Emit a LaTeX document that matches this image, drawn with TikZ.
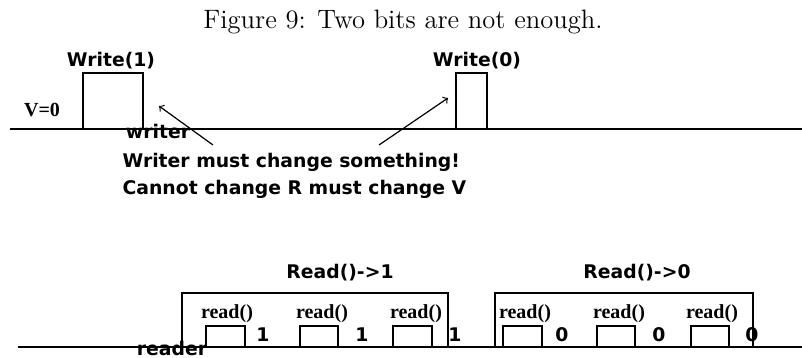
\documentclass[tikz,border=0pt]{standalone}
\usepackage{fontspec}
\newfontfamily\labelsans{DejaVu Sans}
\newfontfamily\labelserif{Liberation Serif}
\begin{document}
\begin{tikzpicture}[x=0.5pt,y=-0.5pt,line width=0.6pt,
  lab/.style={font=\labelsans\bfseries\fontsize{9.4}{11}\selectfont,inner sep=0pt},
  op/.style={font=\labelserif\bfseries\fontsize{10}{12}\selectfont,inner sep=0pt}]
\useasboundingbox (0,0) rectangle (802,358);
\node[font=\fontsize{13.3}{15}\selectfont,inner sep=0pt] (cap) at (403,22) {Figure 9: Two bits are not enough.};
% writer
\draw (10,129)--(802,129);
\draw (83,129)--(83,73)--(143,73)--(143,129);
\draw (456,129)--(456,73)--(487,73)--(487,129);
\node[lab] (w1) at (111,61) {Write(1)};
\node[lab] (w0) at (477,61) {Write(0)};
\node[op] (v) at (42,110) {V=0};
\node[lab] (writer) at (158,131) {writer};
\node[lab,anchor=west] (msg1) at (122,162) {Writer must change something!};
\node[lab,anchor=west] (msg2) at (122,189) {Cannot change R must change V};
\coordinate (t1) at (213,145);
\coordinate (h1) at (159,106);
\coordinate (t0) at (379,145);
\coordinate (h0) at (448,98);
\draw[arrows=->] (t1)--(h1);
\draw[arrows=->] (t0)--(h0);
% reader
\draw (18,347)--(802,347);
\node[lab] (reader) at (172,348) {reader};
\draw (182,347)--(182,293)--(448,293)--(448,347);
\draw (495,347)--(495,293)--(753,293)--(753,347);
\node[lab] (r1) at (340,273) {Read()->1};
\node[lab] (r0) at (637,273) {Read()->0};
\draw (206,347)--(206,326)--(245,326)--(245,347);
\draw (300,347)--(300,326)--(338,326)--(338,347);
\draw (393,347)--(393,326)--(432,326)--(432,347);
\draw (503,347)--(503,326)--(542,326)--(542,347);
\draw (597,347)--(597,326)--(635,326)--(635,347);
\draw (691,347)--(691,326)--(729,326)--(729,347);
\node[op] (a1) at (227,314) {read()};
\node[op] (a2) at (322,314) {read()};
\node[op] (a3) at (416,314) {read()};
\node[op] (b1) at (525,314) {read()};
\node[op] (b2) at (619,314) {read()};
\node[op] (b3) at (712,314) {read()};
\node[lab] (x1) at (263,335) {1};
\node[lab] (x2) at (362,335) {1};
\node[lab] (x3) at (455,335) {1};
\node[lab] (y1) at (562,335) {0};
\node[lab] (y2) at (659,335) {0};
\node[lab] (y3) at (752,335) {0};
\end{tikzpicture}
\end{document}
